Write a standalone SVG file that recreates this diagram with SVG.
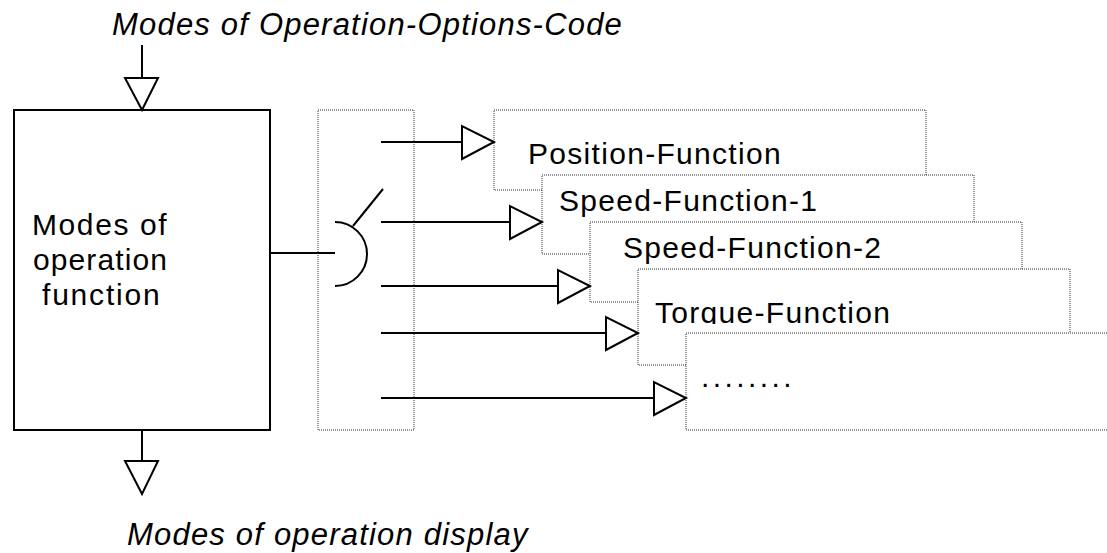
<svg xmlns="http://www.w3.org/2000/svg" width="1107" height="553" viewBox="0 0 1107 553">
<style>
.ln{stroke:#000;stroke-width:2;fill:none}
.tri{stroke:#000;stroke-width:2;fill:#fff;stroke-linejoin:miter}
.dot{stroke:#333;stroke-width:1;stroke-dasharray:1 1;fill:#fff}
.t{font-family:"Liberation Sans",Arial,sans-serif;font-size:30px;letter-spacing:1.3px;fill:#000}
.ti{font-family:"Liberation Sans",Arial,sans-serif;font-size:31px;font-style:italic;letter-spacing:1.2px;fill:#000}
</style>
<defs>
<clipPath id="clipTorque"><rect x="638" y="269" width="432" height="55"/></clipPath>
</defs>
<rect width="1107" height="553" fill="#fff"/>
<g id="label-top"><text class="ti" x="112" y="35">Modes of Operation-Options-Code</text></g>
<g id="label-bottom"><text class="ti" x="127" y="545">Modes of operation display</text></g>
<g id="main">
<rect class="ln" x="14" y="110" width="256" height="320"/>
<text class="t" x="32" y="235" style="letter-spacing:1.6px">Modes of</text>
<text class="t" x="33" y="270" style="letter-spacing:1.1px">operation</text>
<text class="t" x="42" y="305" style="letter-spacing:1.8px">function</text>
</g>
<g id="switch">
<rect class="dot" x="318" y="110" width="96" height="320"/>
<path class="ln" d="M335,222 A32,32 0 0 1 335,286"/>
<line class="ln" x1="353" y1="226" x2="383" y2="189"/>
</g>
<g id="box1">
<rect class="dot" x="494" y="110" width="432" height="80"/>
<text class="t" x="528" y="164">Position-Function</text>
</g>
<g id="box2">
<rect class="dot" x="542" y="175" width="432" height="79"/>
<text class="t" x="559" y="211">Speed-Function-1</text>
</g>
<g id="box3">
<rect class="dot" x="590" y="222" width="432" height="80"/>
<text class="t" x="623" y="258">Speed-Function-2</text>
</g>
<g id="box4">
<rect class="dot" x="638" y="269" width="432" height="96"/>
<text class="t" x="655" y="323" clip-path="url(#clipTorque)">Torque-Function</text>
</g>
<g id="box5">
<rect class="dot" x="686" y="333" width="432" height="97"/>
<text class="t" x="701" y="387" style="letter-spacing:3.4px">........</text>
</g>
<g id="connectors">
<line class="ln" x1="142" y1="45" x2="142" y2="78"/>
<polygon class="tri" points="125,78 158,78 142,110"/>
<line class="ln" x1="142" y1="430" x2="142" y2="461"/>
<polygon class="tri" points="125,461 158,461 142,494"/>
<line class="ln" x1="270" y1="253" x2="335" y2="253"/>
<line class="ln" x1="381" y1="142" x2="462" y2="142"/>
<polygon class="tri" points="462,126 462,159 494,142"/>
<line class="ln" x1="381" y1="222" x2="510" y2="222"/>
<polygon class="tri" points="510,206 510,239 542,222"/>
<line class="ln" x1="381" y1="286" x2="558" y2="286"/>
<polygon class="tri" points="558,270 558,303 590,286"/>
<line class="ln" x1="381" y1="333" x2="606" y2="333"/>
<polygon class="tri" points="606,317 606,350 638,333"/>
<line class="ln" x1="381" y1="398" x2="654" y2="398"/>
<polygon class="tri" points="654,382 654,415 686,398"/>
</g>
</svg>
